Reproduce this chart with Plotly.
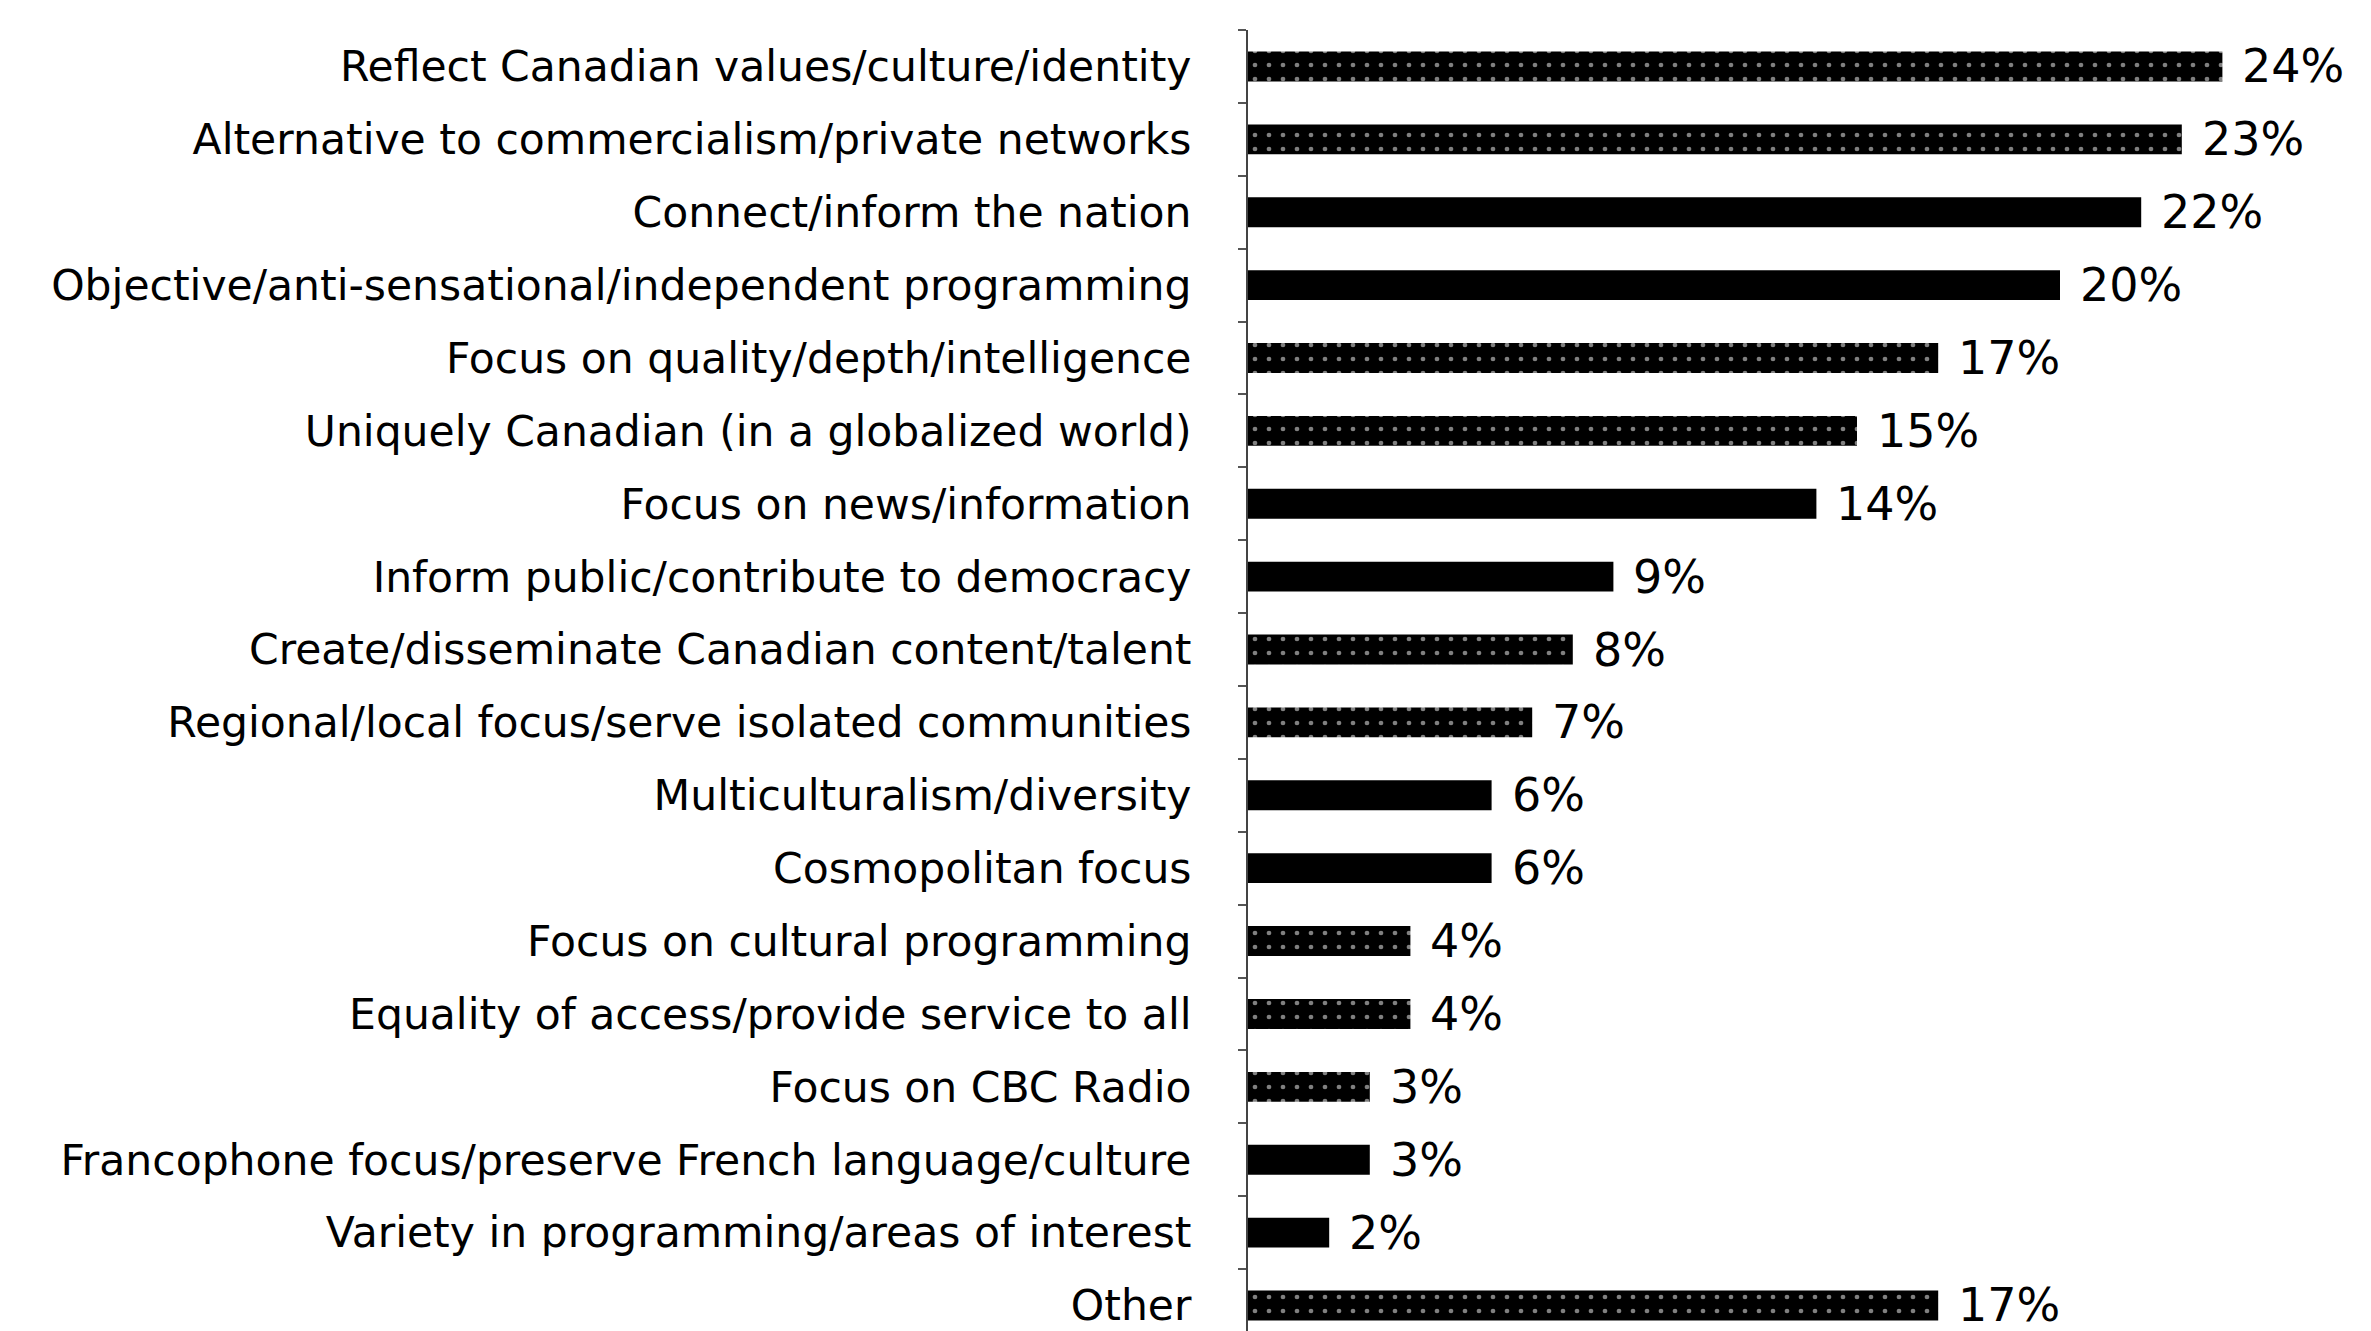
import plotly.graph_objects as go

# Reasons given for the value of public broadcasting (share of mentions, %)
categories = [
    "Reflect Canadian values/culture/identity",
    "Alternative to commercialism/private networks",
    "Connect/inform the nation",
    "Objective/anti-sensational/independent programming",
    "Focus on quality/depth/intelligence",
    "Uniquely Canadian (in a globalized world)",
    "Focus on news/information",
    "Inform public/contribute to democracy",
    "Create/disseminate Canadian content/talent",
    "Regional/local focus/serve isolated communities",
    "Multiculturalism/diversity",
    "Cosmopolitan focus",
    "Focus on cultural programming",
    "Equality of access/provide service to all",
    "Focus on CBC Radio",
    "Francophone focus/preserve French language/culture",
    "Variety in programming/areas of interest",
    "Other",
]
values = [24, 23, 22, 20, 17, 15, 14, 9, 8, 7, 6, 6, 4, 4, 3, 3, 2, 17]

# Fill style per bar: dotted screen or solid black
dotted = [True, True, False, False, True, True, False, False, True, True,
          False, False, True, True, True, False, False, True]

FONT = "DejaVu Sans"

fig = go.Figure(
    go.Bar(
        x=values,
        y=categories,
        orientation="h",
        marker=dict(
            color="black",
            line=dict(width=0),
            pattern=dict(
                shape=["." if d else "" for d in dotted],
                fgcolor="white",
                bgcolor="black",
                size=14,
                solidity=0.09,
                fillmode="overlay",
            ),
        ),
        hoverinfo="skip",
        cliponaxis=False,
    )
)

# Value labels just past the end of each bar
for cat, v in zip(categories, values):
    fig.add_annotation(
        x=v, y=cat, text=f"{v}%", showarrow=False,
        xanchor="left", yanchor="middle", xshift=18,
        font=dict(family=FONT, size=46, color="black"),
    )

fig.update_layout(
    width=2371,
    height=1331,
    margin=dict(l=1248, r=0, t=30, b=0),
    paper_bgcolor="white",
    plot_bgcolor="white",
    bargap=0.59,
    showlegend=False,
    font=dict(family=FONT, size=42, color="black"),
    xaxis=dict(
        range=[0, 27.66], visible=False, fixedrange=True,
    ),
    yaxis=dict(
        autorange=False,
        range=[17.35, -0.5],
        showline=True, linecolor="#444", linewidth=2,
        ticks="outside", tickson="boundaries", ticklen=8,
        tickcolor="#555", tickwidth=2,
        ticklabelstandoff=46,
        showgrid=False, zeroline=False,
        tickfont=dict(family=FONT, size=42.5, color="black"),
    ),
)

fig.write_html("out.html")
